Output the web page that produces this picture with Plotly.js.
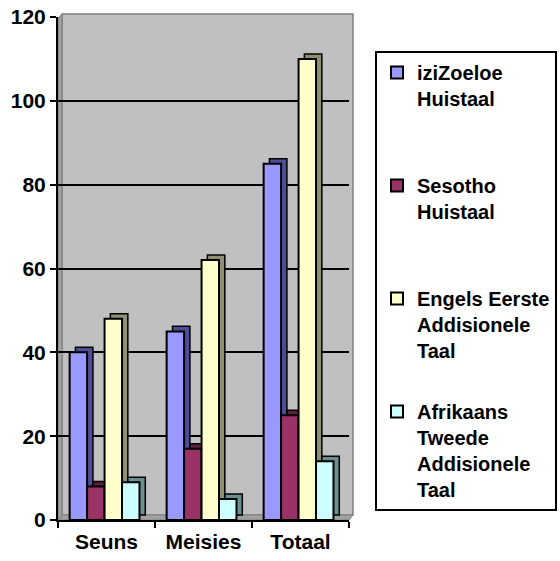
<!DOCTYPE html>
<html>
<head>
<meta charset="utf-8">
<script src="https://cdn.plot.ly/plotly-3.0.1.min.js"></script>
<style>html,body{margin:0;padding:0;background:#fff;}#chart{width:560px;height:561px;}</style>
</head>
<body>
<div id="chart"></div>
<script>
// ---- data ----
const categories = ['Seuns', 'Meisies', 'Totaal'];
const seriesNames = [
  'iziZoeloe<br>Huistaal',
  'Sesotho<br>Huistaal',
  'Engels Eerste<br>Addisionele<br>Taal',
  'Afrikaans<br>Tweede<br>Addisionele<br>Taal'
];
const iziZoeloe = [40, 45, 85];
const sesotho = [8, 17, 25];
const engels = [48, 62, 110];
const afrikaans = [9, 5, 14];
const yTicks = [0, 20, 40, 60, 80, 100, 120];

// ---- styles ----
const seriesValues = [iziZoeloe, sesotho, engels, afrikaans];
const frontColors = ['#9999FF', '#993366', '#FFFFCC', '#CCFFFF'];
const sideColors = ['#4D4D99', '#5C1F3D', '#8F8F73', '#6B8F8F'];
const offsets = [-0.38, -0.20, -0.02, 0.16];
const barW = 0.18;
const depthX = 0.06, depthY = 1.2;
const FONT = 'Liberation Sans, Arial, sans-serif';
const W = 560, H = 561;

const traces = [];
seriesValues.forEach((vals, i) => {
  // back (depth) face
  traces.push({
    type: 'bar', x: categories, y: vals,
    base: vals.map(() => depthY),
    offset: offsets[i] + depthX, width: barW,
    marker: {color: sideColors[i], line: {color: '#000', width: 1.5}},
    showlegend: false, hoverinfo: 'skip', legendgroup: 'g' + i
  });
  // front face
  const lines = seriesNames[i].split('<br>').length;
  let label = seriesNames[i];
  for (let k = lines; k < 4; k++) label += '<br> ';
  traces.push({
    type: 'bar', x: categories, y: vals, name: label,
    offset: offsets[i], width: barW,
    marker: {color: frontColors[i], line: {color: '#000', width: 2}},
    legendgroup: 'g' + i
  });
});

// pixel -> paper helpers for decoration
const L = 58, R = 349, T = 17, B = 520;
const px = v => (v - L) / (R - L);
const py = v => (B - v) / (B - T);
const tickFont = {family: FONT, size: 21, color: '#000', weight: 700};
const legFont = {family: FONT, size: 20, color: '#000', weight: 700};

const layout = {
  width: W, height: H,
  margin: {l: L, r: W - R, t: T, b: H - B, pad: 0},
  paper_bgcolor: '#ffffff',
  plot_bgcolor: 'rgba(0,0,0,0)',
  barmode: 'overlay',
  font: tickFont,
  xaxis: {
    range: [-0.5, 2.5], type: 'category',
    showline: true, linecolor: '#000', linewidth: 2,
    ticks: 'outside', tickson: 'boundaries', ticklen: 6, tickwidth: 2, tickcolor: '#000',
    ticklabelstandoff: 2,
    tickfont: tickFont, showgrid: false, fixedrange: true
  },
  yaxis: {
    range: [0, 120], tickvals: yTicks,
    showline: true, linecolor: '#000', linewidth: 2,
    ticks: 'outside', ticklen: 6, tickwidth: 2, tickcolor: '#000',
    showgrid: true, gridcolor: '#000', gridwidth: 2, zeroline: false,
    tickfont: tickFont, fixedrange: true
  },
  legend: {
    xref: 'container', yref: 'container',
    x: 375 / W, y: 1 - 51 / H, xanchor: 'left', yanchor: 'top',
    maxheight: 520,
    bgcolor: '#ffffff', bordercolor: '#000', borderwidth: 2,
    font: legFont, valign: 'top', tracegroupgap: 6, traceorder: 'grouped'
  },
  shapes: [
    // back wall
    {type: 'rect', xref: 'paper', yref: 'paper', x0: px(62), x1: px(353), y0: py(515), y1: py(14),
      fillcolor: '#C0C0C0', line: {color: '#808080', width: 1.5}, layer: 'below'},
    // left wall
    {type: 'path', xref: 'paper', yref: 'paper', layer: 'below',
      path: `M ${px(58)} ${py(520)} L ${px(62)} ${py(515)} L ${px(62)} ${py(14)} L ${px(58)} ${py(18)} Z`,
      fillcolor: '#A0A0A0', line: {color: '#808080', width: 1}},
    // floor
    {type: 'path', xref: 'paper', yref: 'paper', layer: 'below',
      path: `M ${px(58)} ${py(520)} L ${px(62)} ${py(515)} L ${px(353)} ${py(515)} L ${px(349)} ${py(520)} Z`,
      fillcolor: '#A0A0A0', line: {color: '#808080', width: 1}}
  ],
  showlegend: true
};

Plotly.newPlot('chart', traces, layout, {displayModeBar: false, staticPlot: true});
</script>
</body>
</html>
